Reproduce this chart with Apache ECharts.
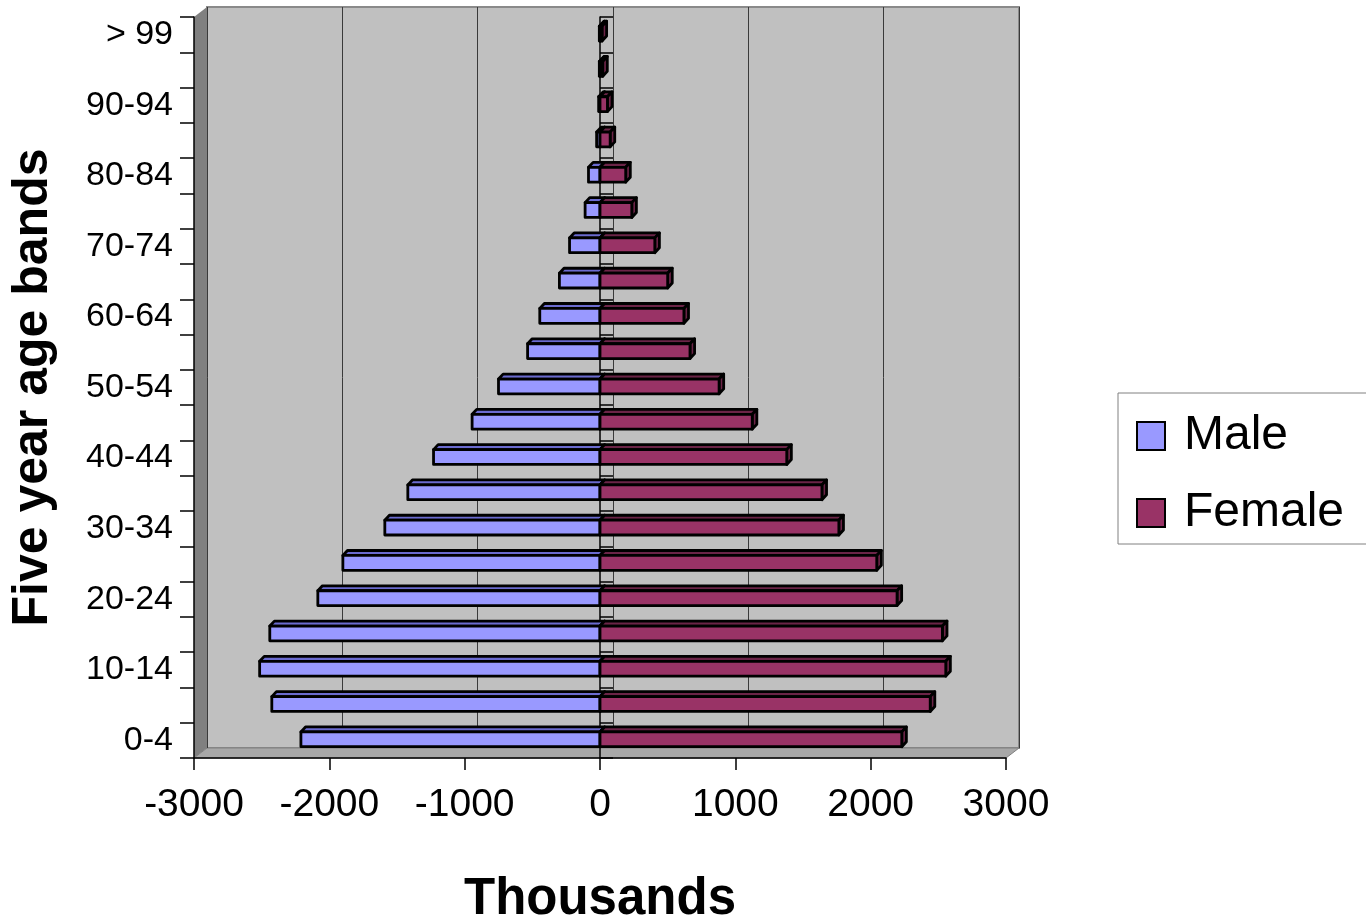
<!DOCTYPE html>
<html>
<head>
<meta charset="utf-8">
<script src="https://cdn.jsdelivr.net/npm/echarts@6/dist/echarts.min.js"></script>
<style>html,body{margin:0;padding:0;background:#fff;}#chart{width:1366px;height:919px;}</style>
</head>
<body>
<div id="chart"></div>
<script>
var categories = ['0-4','5-9','10-14','15-19','20-24','25-29','30-34','35-39','40-44','45-49','50-54','55-59','60-64','65-69','70-74','75-79','80-84','85-89','90-94','95-99','> 99'];
var maleValues = [-2210,-2425,-2515,-2440,-2085,-1900,-1590,-1420,-1230,-945,-750,-535,-445,-300,-225,-110,-85,-25,-10,-5,-5];
var femaleValues = [2230,2440,2555,2530,2195,2045,1765,1640,1380,1125,880,665,620,500,405,235,190,75,55,20,15];
var xTicks = {min:-3000, max:3000, interval:1000};
var seriesNames = ['Male','Female'];

var FONT = '"Liberation Sans", Arial, sans-serif';

function make3D(front, top, side) {
  return function (params, api) {
    var v = api.value(0), c = api.value(1);
    var a = api.coord([0, c]), b = api.coord([v, c]);
    var band = api.size([0, 1])[1];
    var h = band * 0.42, dx = band * 0.13, dy = band * 0.14;
    var cy = a[1] - band * 0.03;
    var x0 = Math.min(a[0], b[0]), x1 = Math.max(a[0], b[0]);
    var yt = cy - h / 2, yb = cy + h / 2;
    function st(fill) { return {fill: fill, stroke: '#000', lineWidth: 2.8, lineJoin: 'round'}; }
    return {type: 'group', children: [
      {type: 'polygon', shape: {points: [[x0, yt], [x0 + dx, yt - dy], [x1 + dx, yt - dy], [x1, yt]]}, style: st(top)},
      {type: 'polygon', shape: {points: [[x1, yt], [x1 + dx, yt - dy], [x1 + dx, yb - dy], [x1, yb]]}, style: st(side)},
      {type: 'rect', shape: {x: x0, y: yt, width: x1 - x0, height: h}, style: st(front)}
    ]};
  };
}

var chart = echarts.init(document.getElementById('chart'), null, {renderer: 'canvas'});
chart.setOption({
  animation: false,
  backgroundColor: '#fff',
  textStyle: {fontFamily: FONT},
  graphic: [
    {type: 'polygon', z: -1, shape: {points: [[194, 17], [207, 7], [207, 748], [194, 758]]}, style: {fill: '#808080'}},
    {type: 'polygon', z: -1, shape: {points: [[194, 758], [207, 748], [1019, 748], [1006, 758]]}, style: {fill: '#A8A8A8', stroke: '#808080', lineWidth: 1}}
  ],
  legend: {
    orient: 'vertical', left: 1118, top: 393,
    data: seriesNames,
    backgroundColor: '#fff', borderColor: '#808080', borderWidth: 1,
    padding: [19, 40, 7, 18], itemGap: 29, itemWidth: 28, itemHeight: 28,
    icon: 'rect',
    itemStyle: {borderColor: '#000', borderWidth: 2},
    textStyle: {fontSize: 48, color: '#000', fontFamily: FONT, lineHeight: 48, padding: [0, 0, 0, 14]}
  },
  grid: [
    {left: 194, top: 17, width: 812, height: 741, containLabel: false, outerBoundsMode: 'none'},
    {left: 207, top: 7, width: 812, height: 741, show: true, backgroundColor: '#C0C0C0', borderColor: '#8a8a8a', borderWidth: 2, z: -2, outerBoundsMode: 'none'}
  ],
  xAxis: [
    {type: 'value', gridIndex: 0, min: xTicks.min, max: xTicks.max, interval: xTicks.interval,
     axisLine: {show: true, onZero: false, lineStyle: {color: '#000', width: 1.5}},
     axisTick: {show: true, length: 12, lineStyle: {color: '#000', width: 1.5}},
     axisLabel: {fontSize: 39, color: '#000', margin: 28, fontFamily: FONT,
                 formatter: function (v) { return String(v); }},
     splitLine: {show: false},
     name: 'Thousands', nameLocation: 'middle', nameGap: 116,
     nameTextStyle: {fontSize: 51, fontWeight: 'bold', color: '#000', fontFamily: FONT}},
    {type: 'value', gridIndex: 1, min: xTicks.min, max: xTicks.max, interval: xTicks.interval,
     axisLine: {show: false}, axisTick: {show: false}, axisLabel: {show: false},
     splitLine: {show: true, lineStyle: {color: '#3a3a3a', width: 1}}}
  ],
  yAxis: [
    {type: 'category', gridIndex: 0, data: categories, position: 'left',
     axisLine: {show: true, onZero: false, lineStyle: {color: '#000', width: 1.5}},
     axisTick: {show: true, length: 14, interval: 0, lineStyle: {color: '#000', width: 1.5}},
     axisLabel: {interval: 1, fontSize: 34, color: '#000', margin: 21, fontFamily: FONT},
     name: 'Five year age bands', nameLocation: 'middle', nameRotate: 90, nameGap: 136,
     nameTextStyle: {fontSize: 50, fontWeight: 'bold', color: '#000', fontFamily: FONT}},
    {type: 'category', gridIndex: 0, data: categories,
     axisLine: {show: true, onZero: true, lineStyle: {color: '#000', width: 1.5}},
     axisTick: {show: true, length: 13, interval: 0, lineStyle: {color: '#000', width: 1.5}},
     axisLabel: {show: false}},
    {type: 'category', gridIndex: 1, data: categories, show: false}
  ],
  series: [
    {name: 'Male', type: 'custom', xAxisIndex: 0, yAxisIndex: 0, clip: false, z: 3,
     itemStyle: {color: '#9999FF'},
     encode: {x: 0, y: 1},
     renderItem: make3D('#9999FF', '#6B6BCF', '#6B6BCF'),
     data: maleValues.map(function (v, i) { return [v, i]; })},
    {name: 'Female', type: 'custom', xAxisIndex: 0, yAxisIndex: 0, clip: false, z: 4,
     itemStyle: {color: '#993366'},
     encode: {x: 0, y: 1},
     renderItem: make3D('#993366', '#6B2447', '#6B2447'),
     data: femaleValues.map(function (v, i) { return [v, i]; })}
  ]
});
</script>
</body>
</html>
